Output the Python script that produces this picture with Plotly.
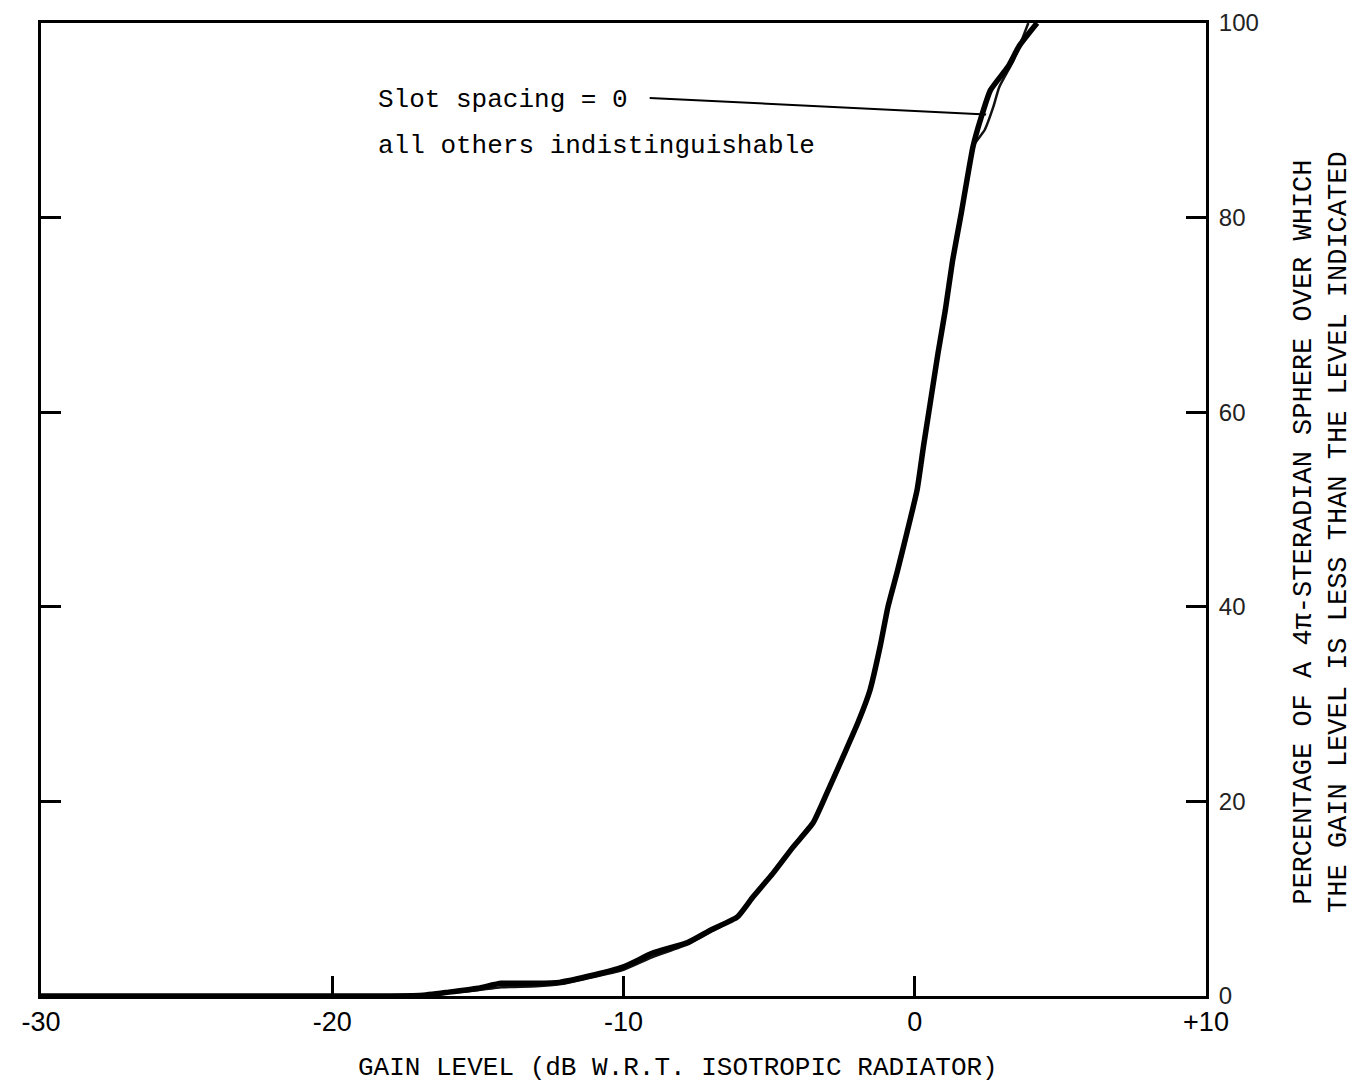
import plotly.graph_objects as go

# Data
gain_all = [-30, -20, -17, -16, -15, -14.2, -13, -12.2, -11.25, -10, -9, -7.8, -7, -6.1, -5.55,
            -4.87, -4.18, -3.49, -3.01, -2.46, -1.95, -1.54, -1.19, -0.92, -0.61, -0.27, 0.08,
            0.3, 0.53, 0.8, 1.05, 1.3, 1.6, 1.8, 2.0, 2.25, 2.6, 3.2, 3.6, 4.2]
pct_all = [0, 0, 0.05, 0.4, 0.8, 1.3, 1.3, 1.4, 2.0, 3.0, 4.4, 5.5, 6.8, 8.1, 10.2,
           12.6, 15.3, 17.8, 20.9, 24.6, 28.1, 31.4, 35.9, 40.0, 43.5, 47.6, 52.0,
           56.5, 60.9, 66.1, 70.5, 75.6, 80.5, 84.0, 87.3, 90.0, 93.1, 95.5, 97.7, 100]

gain_slot0 = [-30, -20, -17, -16, -15, -14.2, -13, -12.2, -11.25, -10, -9, -7.8, -7, -6.1,
              -5.55, -4.87, -4.18, -3.49, -3.01, -2.46, -1.95, -1.54, -1.19, -0.92, -0.61,
              -0.27, 0.08, 0.3, 0.53, 0.8, 1.05, 1.3, 1.6, 1.8, 2.0, 2.4, 2.7, 2.9, 3.4, 3.9]
pct_slot0 = [0, 0, 0.05, 0.3, 0.6, 0.9, 1.0, 1.2, 1.8, 2.7, 4.0, 5.3, 6.6, 8.1,
             10.2, 12.6, 15.3, 17.8, 20.9, 24.6, 28.1, 31.4, 35.9, 40.0, 43.5,
             47.6, 52.0, 56.5, 60.9, 66.1, 70.5, 75.6, 80.5, 84.0, 87.3, 89.0, 91.4, 93.4, 96.2, 100]

x_ticks = [-30, -20, -10, 0, 10]
x_ticklabels = ["-30", "-20", "-10", "0", "+10"]
y_ticks = [0, 20, 40, 60, 80, 100]
y_ticklabels = ["0", "20", "40", "60", "80", "100"]

mono = "Liberation Mono, Courier New, monospace"

fig = go.Figure()
fig.add_trace(go.Scatter(x=gain_slot0, y=pct_slot0, mode="lines",
                         line=dict(color="#111", width=2.5, shape="spline", smoothing=0.5),
                         name="Slot spacing = 0", showlegend=False))
fig.add_trace(go.Scatter(x=gain_all, y=pct_all, mode="lines",
                         line=dict(color="#000", width=5.5, shape="spline", smoothing=0.5),
                         name="all others", showlegend=False))

# leader line from the label to the slot-spacing-0 curve
fig.add_shape(type="line", x0=-9.1, y0=92.3, x1=2.45, y1=90.6, xref="x", yref="y",
              line=dict(color="#000", width=2))

fig.add_annotation(x=-18.5, y=92.1, xref="x", yref="y", text="Slot spacing = 0",
                   showarrow=False, xanchor="left", yanchor="middle",
                   font=dict(family=mono, size=26, color="#000"))
fig.add_annotation(x=-18.5, y=87.4, xref="x", yref="y", text="all others indistinguishable",
                   showarrow=False, xanchor="left", yanchor="middle",
                   font=dict(family=mono, size=26, color="#000"))

# x-axis title
fig.add_annotation(x=0.547, y=-0.074, xref="paper", yref="paper",
                   text="GAIN LEVEL (dB W.R.T. ISOTROPIC RADIATOR)",
                   showarrow=False, xanchor="center", yanchor="middle",
                   font=dict(family=mono, size=26, color="#000"))

# right-hand axis title (two rotated lines)
fig.add_annotation(x=1.0996, y=0.477, xref="paper", yref="paper",
                   text="PERCENTAGE OF A 4π-STERADIAN SPHERE OVER WHICH<br>THE GAIN LEVEL IS LESS THAN THE LEVEL INDICATED",
                   showarrow=False, textangle=-90, xanchor="center", yanchor="middle",
                   font=dict(family=mono, size=27, color="#000"))

fig.update_layout(
    width=1347, height=1075,
    margin=dict(l=33, r=149, t=15, b=87),
    paper_bgcolor="white", plot_bgcolor="white",
    xaxis=dict(range=[-30, 10], tickvals=x_ticks, ticktext=x_ticklabels,
               ticks="inside", ticklen=20, tickwidth=3, tickcolor="#000",
               showline=True, linecolor="#000", linewidth=3, mirror=True,
               showgrid=False, zeroline=False, automargin=False,
               tickfont=dict(family="Liberation Sans Narrow, Liberation Sans, sans-serif",
                             size=27, color="#000")),
    yaxis=dict(range=[0, 100], tickvals=y_ticks, ticktext=y_ticklabels, side="right",
               ticks="inside", ticklen=20, tickwidth=3, tickcolor="#000",
               showline=True, linecolor="#000", linewidth=3, mirror="ticks",
               showgrid=False, zeroline=False, automargin=False, ticklabelstandoff=5,
               tickfont=dict(family="Liberation Sans, sans-serif", size=24, color="#222")),
)

fig.write_html("out.html")
